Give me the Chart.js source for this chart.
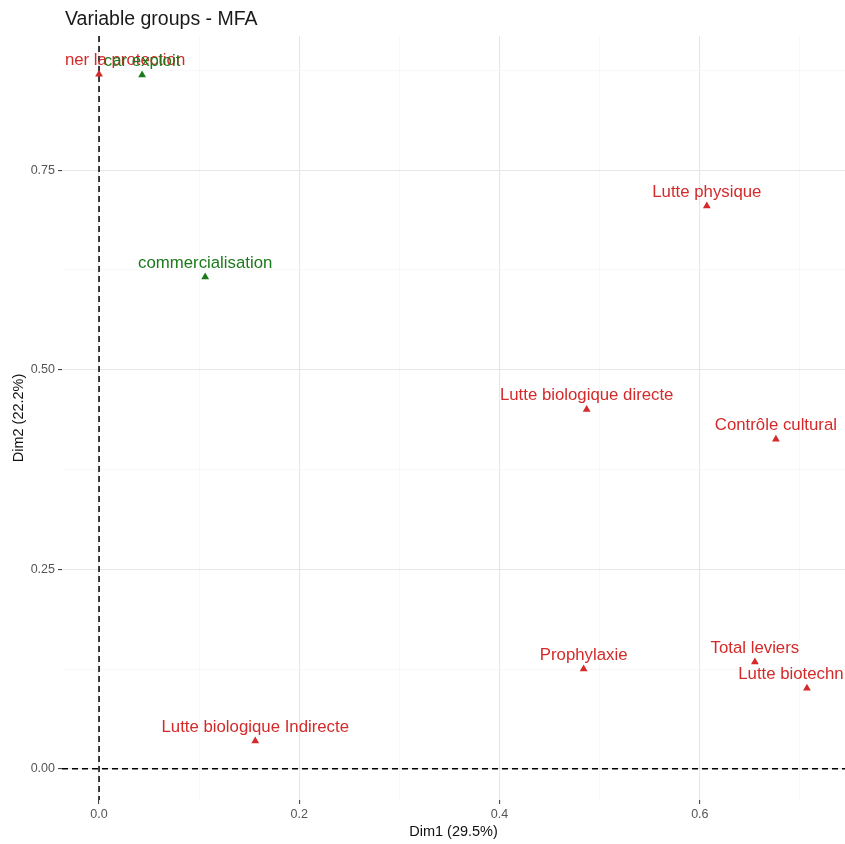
<!DOCTYPE html>
<html>
<head>
<meta charset="utf-8">
<script src="https://cdn.jsdelivr.net/npm/chart.js@4.4.1/dist/chart.umd.min.js"></script>
<style>
  html, body { margin: 0; padding: 0; background: #fff; overflow: hidden; }
</style>
</head>
<body>
<canvas id="mfa" width="845" height="844"></canvas>
<script>
// data
const names = ["ner la protection", "car exploit", "commercialisation", "Lutte physique",
  "Lutte biologique directe", "Contrôle cultural", "Prophylaxie", "Total leviers",
  "Lutte biotechn", "Lutte biologique Indirecte"];
const dim1 = [0.000, 0.043, 0.106, 0.607, 0.487, 0.676, 0.484, 0.655, 0.707, 0.156];
const dim2 = [0.870, 0.869, 0.616, 0.705, 0.450, 0.413, 0.125, 0.134, 0.101, 0.035];
const group = ["red", "green", "green", "red", "red", "red", "red", "red", "red", "red"];
const xTicks = [0, 0.1, 0.2, 0.3, 0.4, 0.5, 0.6, 0.7];
const yTicks = [0, 0.125, 0.25, 0.375, 0.5, 0.625, 0.75, 0.875];
const xMajor = [0, 0.2, 0.4, 0.6];
const yMajor = [0, 0.25, 0.5, 0.75];

const colors = { red: "#d42a2a", green: "#1b7a1b" };
// label nudges (px) for the clipped/overlapping ones
const labelDx = [26, 0, 0, 0, 0, 0, 0, 0, -16, 0];
const FONT = "'Liberation Sans', Arial, sans-serif";

function isMajor(list, v) {
  return list.some(m => Math.abs(m - v) < 1e-9);
}

const points = names.map((n, i) => ({ x: dim1[i], y: dim2[i] }));

// dashed zero lines
const zeroLines = {
  id: "zeroLines",
  beforeDatasetsDraw(chart) {
    const c = chart.ctx, a = chart.chartArea;
    const x0 = chart.scales.x.getPixelForValue(0);
    const y0 = chart.scales.y.getPixelForValue(0);
    c.save();
    c.strokeStyle = "#000";
    c.lineWidth = 1.5;
    c.setLineDash([6, 4]);
    c.beginPath();
    c.moveTo(x0, a.top); c.lineTo(x0, a.bottom);
    c.moveTo(a.left, y0); c.lineTo(a.right, y0);
    c.stroke();
    c.restore();
  }
};

// point labels + title
const pointLabels = {
  id: "pointLabels",
  afterDatasetsDraw(chart) {
    const c = chart.ctx, a = chart.chartArea;
    const meta = chart.getDatasetMeta(0);
    c.save();
    c.beginPath();
    c.rect(a.left, a.top - 20, a.right - a.left + 10, a.bottom - a.top + 20);
    c.clip();
    c.font = "16.8px " + FONT;
    c.textAlign = "center";
    c.textBaseline = "middle";
    meta.data.forEach((el, i) => {
      c.fillStyle = colors[group[i]];
      c.fillText(names[i], el.x + labelDx[i], el.y - 14);
    });
    c.restore();

    c.save();
    c.font = "19.5px " + FONT;
    c.fillStyle = "#1a1a1a";
    c.textAlign = "left";
    c.textBaseline = "middle";
    c.fillText("Variable groups - MFA", 65, 20);
    c.restore();
  }
};

new Chart(document.getElementById("mfa"), {
  type: "scatter",
  data: {
    datasets: [{
      data: points,
      pointStyle: "triangle",
      radius: 4.5,
      hoverRadius: 4.5,
      backgroundColor: group.map(g => colors[g]),
      borderColor: group.map(g => colors[g]),
      borderWidth: 0
    }]
  },
  options: {
    responsive: false,
    animation: false,
    layout: { autoPadding: false, padding: { top: 36, right: 0, left: 0, bottom: 0 } },
    plugins: { legend: { display: false }, tooltip: { enabled: false } },
    scales: {
      x: {
        min: -0.037, max: 0.745,
        afterBuildTicks(scale) { scale.ticks = xTicks.map(v => ({ value: v })); },
        afterFit(scale) {
          scale.height = 44;
          scale.paddingLeft = 0;
          scale.paddingRight = 0;
        },
        border: { display: false },
        grid: {
          color: c => isMajor(xMajor, c.tick.value) ? "#e6e6e6" : "#f3f3f3",
          lineWidth: c => isMajor(xMajor, c.tick.value) ? 1.1 : 0.6,
          tickColor: c => isMajor(xMajor, c.tick.value) ? "#444" : "rgba(0,0,0,0)",
          tickLength: 4
        },
        ticks: {
          autoSkip: false, maxRotation: 0, padding: 3,
          color: "#555",
          font: { family: FONT, size: 12.5 },
          callback: v => isMajor(xMajor, v) ? v.toFixed(1) : ""
        },
        title: {
          display: true, text: "Dim1 (29.5%)", color: "#111",
          font: { family: FONT, size: 14.5 },
          padding: { top: 0, bottom: 3 }
        }
      },
      y: {
        min: -0.039, max: 0.918,
        afterBuildTicks(scale) { scale.ticks = yTicks.map(v => ({ value: v })); },
        afterFit(scale) {
          scale.width = 62;
          scale.paddingTop = 0;
          scale.paddingBottom = 0;
        },
        border: { display: false },
        grid: {
          color: c => isMajor(yMajor, c.tick.value) ? "#e6e6e6" : "#f3f3f3",
          lineWidth: c => isMajor(yMajor, c.tick.value) ? 1.1 : 0.6,
          tickColor: c => isMajor(yMajor, c.tick.value) ? "#444" : "rgba(0,0,0,0)",
          tickLength: 4
        },
        ticks: {
          autoSkip: false, padding: 3,
          color: "#555",
          font: { family: FONT, size: 12.5 },
          callback: v => isMajor(yMajor, v) ? v.toFixed(2) : ""
        },
        title: {
          display: true, text: "Dim2 (22.2%)", color: "#111",
          font: { family: FONT, size: 14.5 },
          padding: { top: 10, bottom: 0 }
        }
      }
    }
  },
  plugins: [zeroLines, pointLabels]
});
</script>
</body>
</html>
